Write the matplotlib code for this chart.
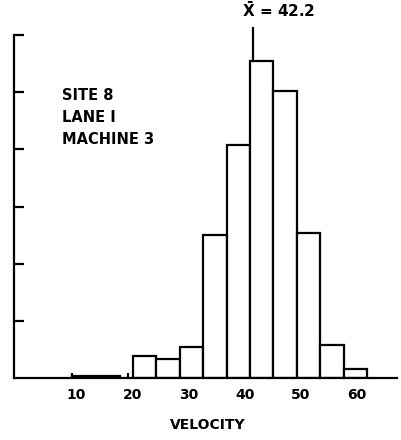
import matplotlib
matplotlib.use("Agg")
import matplotlib.pyplot as plt
from matplotlib.transforms import ScaledTranslation

# velocity histogram, bins of 25/6 mph
bin_edges = [20.83, 25.0, 29.17, 33.33, 37.5, 41.67, 45.83, 50.0, 54.17, 58.33, 62.5]
counts = [1.95, 1.66, 2.76, 12.5, 20.4, 27.7, 25.1, 12.7, 2.9, 0.79]
# a few stray low-speed readings
low_left, low_right, low_count = 10.0, 18.5, 0.2
mean_velocity = 42.2
site_lines = ["SITE 8", "LANE I", "MACHINE 3"]
x_ticks = [10, 20, 30, 40, 50, 60]
y_ticks = [5, 10, 15, 20, 25, 30]

W, H = 402, 440
fig = plt.figure(figsize=(W / 100, H / 100), dpi=100)
ax = fig.add_axes([14 / W, 61.7 / H, 383 / W, 343.3 / H])

lw = 1.6
lefts = bin_edges[:-1]
widths = [b - a for a, b in zip(bin_edges[:-1], bin_edges[1:])]
ax.bar(lefts, counts, width=widths, align="edge", facecolor="white",
       edgecolor="black", linewidth=lw, zorder=2)
ax.bar([low_left], [low_count], width=[low_right - low_left], align="edge",
       facecolor="black", edgecolor="black", linewidth=lw, zorder=2)

# mean marker rises from the bar top past the frame
mean_bin = 0
for i, left in enumerate(lefts):
    if left <= mean_velocity:
        mean_bin = i
ax.plot([mean_velocity, mean_velocity], [counts[mean_bin], 30.6], color="black",
        linewidth=lw, clip_on=False, zorder=3)
ax.text(mean_velocity - 2.0, 31.3, r"$\mathbf{\bar{X}}$ = 42.2", fontsize=11,
        fontweight="bold", ha="left", va="bottom")

ax.set_xlim(-0.3, 67.8)
ax.set_ylim(0, 30)
for s in ["top", "right"]:
    ax.spines[s].set_visible(False)
for s in ["left", "bottom"]:
    ax.spines[s].set_linewidth(lw)

ax.set_xticks(x_ticks)
ax.set_xticklabels([str(t) for t in x_ticks], fontweight="bold", fontsize=10)
ax.tick_params(axis="x", direction="in", length=3.5, width=lw, pad=7)
shift = ScaledTranslation(4 / 100, 0, fig.dpi_scale_trans)
for lab in ax.get_xticklabels():
    lab.set_transform(lab.get_transform() + shift)
ax.set_yticks(y_ticks)
ax.set_yticklabels([])
ax.tick_params(axis="y", direction="in", length=7, width=lw)

for i, line in enumerate(site_lines):
    fig.text(62 / W, 1 - (95 + 22 * i) / H, line, fontsize=10.5,
             fontweight="bold", ha="left", va="center")

fig.text(208 / W, 1 - 425 / H, "VELOCITY", fontsize=10, fontweight="bold",
         ha="center", va="center")

fig.savefig("out.png", dpi=100)
